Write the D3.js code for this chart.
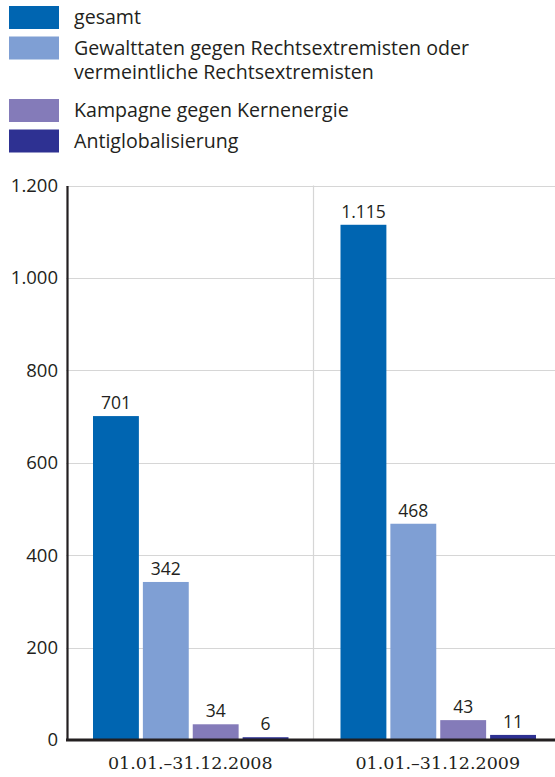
<!DOCTYPE html>
<html>
<head>
<meta charset="utf-8">
<script src="https://cdn.jsdelivr.net/npm/d3@7"></script>
<style>
  body { margin: 0; background: #fff; }
  svg { display: block; }
  .sans { font-family: "Open Sans", sans-serif; fill: #231f20; }
  .serif { font-family: "DejaVu Serif", serif; fill: #231f20; }
</style>
</head>
<body>
<svg id="chart"></svg>
<script>
// data
const categories = ["01.01.–31.12.2008", "01.01.–31.12.2009"];
const series = ["gesamt", "gewalt", "kern", "anti"];
const seriesLabels = [
  ["gesamt"],
  ["Gewalttaten gegen Rechtsextremisten oder", "vermeintliche Rechtsextremisten"],
  ["Kampagne gegen Kernenergie"],
  ["Antiglobalisierung"]
];
const seriesColors = ["#0065b1", "#7f9fd4", "#847bb9", "#2e3192"];
const values2008 = [701, 342, 34, 6];
const values2009 = [1115, 468, 43, 11];
const yTicks = [0, 200, 400, 600, 800, 1000, 1200];

const width = 555, height = 777;
const values = [values2008, values2009];

const de = d3.formatLocale({decimal: ",", thousands: ".", grouping: [3], currency: ["", " €"]});
const fmt = de.format(",d");

const svg = d3.select("#chart")
  .attr("width", width)
  .attr("height", height);

// legend
let ly = 6;
seriesLabels.forEach((lines, i) => {
  svg.append("rect")
    .attr("x", 9).attr("y", ly)
    .attr("width", 50).attr("height", 23)
    .attr("fill", seriesColors[i]);
  const t = svg.append("text")
    .attr("class", "sans")
    .attr("x", 74).attr("y", ly + 18)
    .style("font-size", "19.6px");
  lines.forEach((l, j) => {
    t.append("tspan").attr("x", 74).attr("dy", j ? 24 : 0).text(l);
  });
  ly += 30.5 + (lines.length - 1) * 32;
});

// scales
const y = d3.scaleLinear().domain([0, 1200]).range([740, 185.5]);
const x0 = d3.scaleBand().domain(categories).range([66.5, 561.5]);
const x1 = d3.scaleBand().domain(series)
  .range([26.5, x0.bandwidth() - 25.5])
  .paddingInner(0.08);

// gridlines
svg.append("g")
  .selectAll("line")
  .data(yTicks.filter(d => d > 0))
  .join("line")
  .attr("x1", 66).attr("x2", width)
  .attr("y1", d => Math.round(y(d)) + 0.5)
  .attr("y2", d => Math.round(y(d)) + 0.5)
  .attr("stroke", "#d6d6d6").attr("stroke-width", 1.2);

// divider between the two periods
svg.append("line")
  .attr("x1", x0(categories[1]) - 0.5).attr("x2", x0(categories[1]) - 0.5)
  .attr("y1", y(1200)).attr("y2", y(0))
  .attr("stroke", "#d6d6d6").attr("stroke-width", 1.2);

// bars
const group = svg.append("g")
  .selectAll("g")
  .data(categories)
  .join("g")
  .attr("transform", d => `translate(${x0(d)},0)`);

group.selectAll("rect")
  .data((d, i) => values[i].map((v, k) => ({key: series[k], value: v, color: seriesColors[k]})))
  .join("rect")
  .attr("x", d => x1(d.key))
  .attr("y", d => y(d.value))
  .attr("width", x1.bandwidth())
  .attr("height", d => y(0) - y(d.value))
  .attr("fill", d => d.color);

group.selectAll("text")
  .data((d, i) => values[i].map((v, k) => ({key: series[k], value: v})))
  .join("text")
  .attr("class", "sans")
  .attr("x", d => x1(d.key) + x1.bandwidth() / 2)
  .attr("y", d => y(d.value) - 7)
  .attr("text-anchor", "middle")
  .style("font-size", "17.5px")
  .text(d => fmt(d.value));

// y axis
const yAxis = svg.append("g")
  .attr("transform", "translate(67,0)")
  .call(d3.axisLeft(y).tickValues(yTicks).tickSize(0).tickPadding(9).tickFormat(fmt));
yAxis.select(".domain").attr("stroke", "#231f20").attr("stroke-width", 2.2);
yAxis.selectAll("text")
  .attr("class", "sans")
  .attr("font-family", null)
  .attr("fill", null)
  .style("font-size", "18.5px");

// x axis
const xAxis = svg.append("g")
  .attr("transform", `translate(0,${y(0)})`)
  .call(d3.axisBottom(x0).tickSize(0).tickPadding(17));
xAxis.select(".domain").attr("d", `M66,0H${width}`)
  .attr("stroke", "#231f20").attr("stroke-width", 3);
xAxis.selectAll("text")
  .attr("class", "serif")
  .attr("font-family", null)
  .attr("fill", null)
  .style("font-size", "17.5px");
</script>
</body>
</html>
